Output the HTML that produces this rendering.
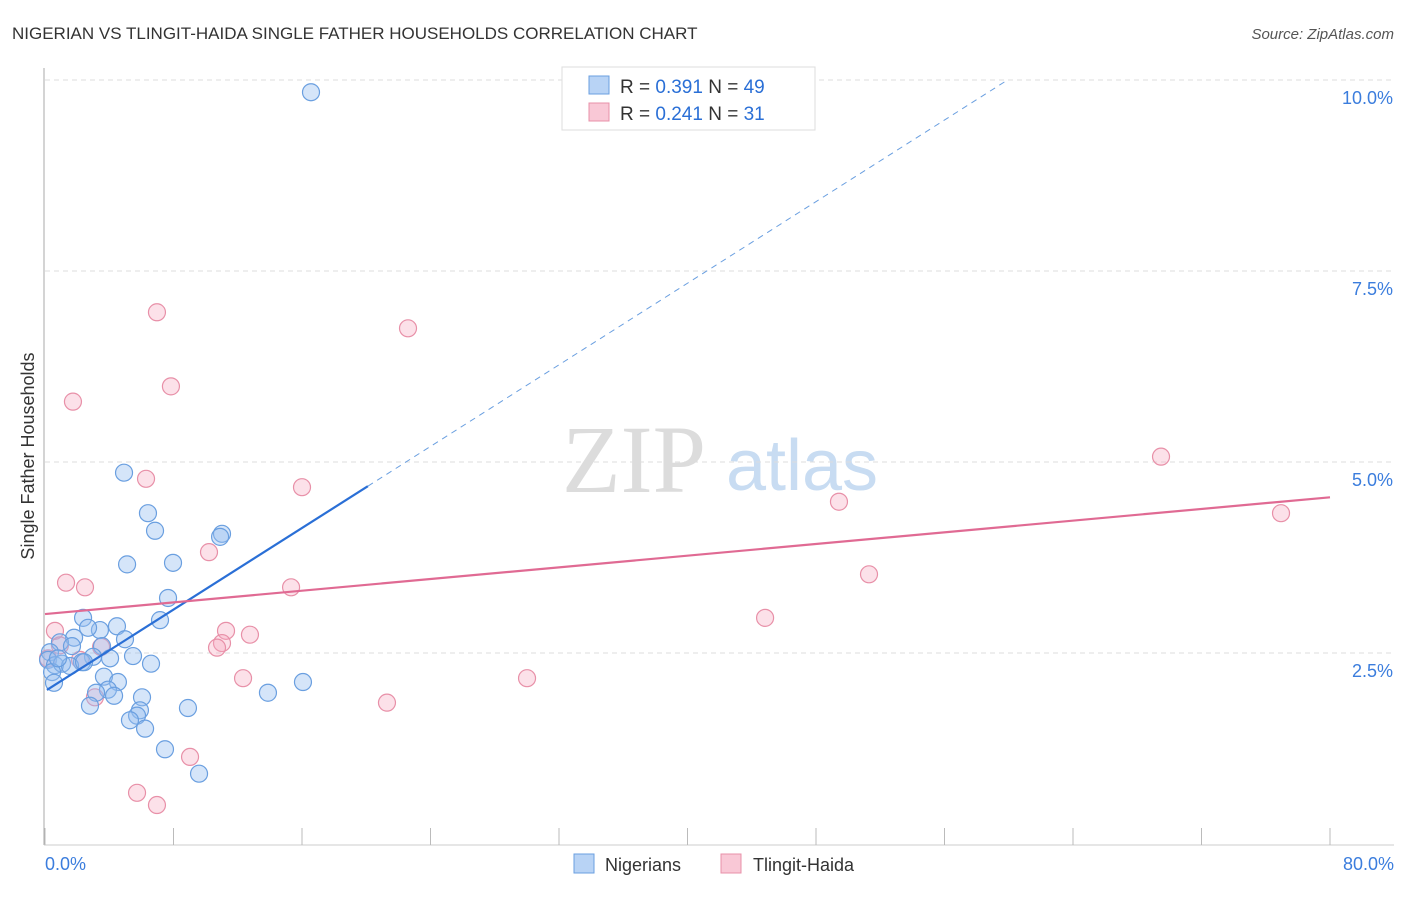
<!DOCTYPE html>
<html><head><meta charset="utf-8"><style>
body{margin:0;background:#fff;font-family:"Liberation Sans",sans-serif;}
svg text{font-family:"Liberation Sans",sans-serif;}
</style></head><body>
<svg width="1406" height="892" viewBox="0 0 1406 892">
<text x="12" y="39" font-size="17" fill="#333">NIGERIAN VS TLINGIT-HAIDA SINGLE FATHER HOUSEHOLDS CORRELATION CHART</text>
<text x="1394" y="39" font-size="15" fill="#555" font-style="italic" text-anchor="end">Source: ZipAtlas.com</text>
<g>
<text x="634" y="492" font-size="96" fill="#dcdcdc" text-anchor="middle" font-family="Liberation Serif" style="font-family:'Liberation Serif',serif">ZIP</text>
<text x="802" y="490" font-size="72" fill="#c8dcf2" text-anchor="middle">atlas</text>
</g>
<g id="grid"></g>
<g id="axes"></g>
<g id="marks"></g>
<text transform="translate(34,456) rotate(-90)" font-size="18" fill="#333" text-anchor="middle">Single Father Households</text>
<g>
<rect x="562" y="67" width="253" height="63" fill="#fff" stroke="#ddd"/>
<rect x="589" y="76" width="20" height="18" fill="#b8d3f5" stroke="#6a9fe0"/>
<text x="620" y="93" font-size="19" fill="#333">R = <tspan fill="#2a6fd6">0.391</tspan>   N = <tspan fill="#2a6fd6">49</tspan></text>
<rect x="589" y="103" width="20" height="18" fill="#f9c8d6" stroke="#e890a8"/>
<text x="620" y="120" font-size="19" fill="#333">R = <tspan fill="#2a6fd6">0.241</tspan>   N = <tspan fill="#2a6fd6"> 31</tspan></text>
</g>
<g>
<rect x="574" y="854" width="20" height="19" fill="#b8d3f5" stroke="#6a9fe0"/>
<text x="605" y="871" font-size="18" fill="#333">Nigerians</text>
<rect x="721" y="854" width="20" height="19" fill="#f9c8d6" stroke="#e890a8"/>
<text x="753" y="871" font-size="18" fill="#333">Tlingit-Haida</text>
</g>
</svg>
<script>
const blueX=[16.56,4.92,6.41,6.85,5.11,7.97,11.02,10.90,7.66,7.16,2.37,4.48,3.42,2.68,1.81,0.93,1.68,4.98,3.55,4.05,5.48,6.60,2.99,2.30,0.31,0.19,0.62,1.06,1.56,0.44,0.56,3.67,4.54,3.92,3.18,4.30,6.04,13.88,16.06,2.80,8.90,5.91,5.73,5.29,6.23,7.47,9.59,2.43,0.81];
const blueY=[9.84,4.86,4.33,4.10,3.66,3.68,4.06,4.02,3.22,2.93,2.96,2.85,2.80,2.83,2.70,2.64,2.59,2.68,2.59,2.43,2.46,2.36,2.45,2.38,2.51,2.41,2.34,2.36,2.33,2.25,2.11,2.19,2.12,2.02,1.98,1.94,1.92,1.98,2.12,1.81,1.78,1.75,1.68,1.62,1.51,1.24,0.92,2.38,2.43];
const pinkX=[6.97,22.60,7.84,1.74,6.29,16.00,10.21,1.31,2.49,15.32,0.62,0.93,12.76,11.27,11.02,10.71,3.49,2.18,0.19,12.33,3.11,21.29,30.01,9.03,5.73,6.97,69.48,76.95,49.43,51.30,44.83];
const pinkY=[6.96,6.75,5.99,5.79,4.78,4.67,3.82,3.42,3.36,3.36,2.79,2.60,2.74,2.79,2.63,2.57,2.58,2.41,2.43,2.17,1.92,1.85,2.17,1.14,0.67,0.51,5.07,4.33,4.48,3.53,2.96];
const blueTrend=[2.0,0.1335]; // intercept, slope
const pinkTrend=[3.01,0.0191];
const yTicks=[2.5,5.0,7.5,10.0];
const yTickLabels=["2.5%","5.0%","7.5%","10.0%"];
const xTicks=[0,8,16,24,32,40,48,56,64,72,80];

const X=v=>45+v/80*1285;
const Y=v=>844-v*76.4;
const NS="http://www.w3.org/2000/svg";
function mk(tag,attrs,parent){const e=document.createElementNS(NS,tag);for(const k in attrs)e.setAttribute(k,attrs[k]);parent.appendChild(e);return e;}
const grid=document.getElementById('grid'),axes=document.getElementById('axes'),marks=document.getElementById('marks');
yTicks.forEach((t,i)=>{
  const l=mk('line',{x1:45,x2:1394,y1:Y(t),y2:Y(t),stroke:'#ddd','stroke-dasharray':'5,4'},grid);
  
  
  const tx=mk('text',{x:1393,y:Y(t)+24,'font-size':18,fill:'#3b7ddd','text-anchor':'end'},axes);
  tx.textContent=yTickLabels[i];
  
  
});
const ya=mk('line',{x1:44,x2:44,y1:68,y2:845,stroke:'#aaa'},axes);


const xa=mk('line',{x1:44,x2:1394,y1:845,y2:845,stroke:'#ccc'},axes);


xTicks.forEach(t=>{
  const l=mk('line',{x1:X(t),x2:X(t),y1:828,y2:845,stroke:'#bbb'},axes);
  
  
});
[[0,'0.0%','start',45],[80,'80.0%','end',1394]].forEach(a=>{
  const tx=mk('text',{x:a[3],y:870,'font-size':18,fill:'#3b7ddd','text-anchor':a[2]},axes);
  tx.textContent=a[1];
  
  
});
function dots(xs,ys,fill,stroke,name){
  xs.forEach((v,i)=>{
    const c=mk('circle',{cx:X(v),cy:Y(ys[i]),r:8.5,fill:fill,stroke:stroke,'stroke-width':1.2},marks);
    
    
  });
}
dots(pinkX,pinkY,'rgba(246,170,192,0.35)','#e890a8','tlingit-haida-point');
dots(blueX,blueY,'rgba(150,190,240,0.4)','#6a9fe0','nigerian-point');
const bx0=0.12,bx1=20.1,bx2=59.8;
const bs=mk('line',{x1:X(bx0),y1:Y(blueTrend[0]+blueTrend[1]*bx0),x2:X(bx1),y2:Y(blueTrend[0]+blueTrend[1]*bx1),stroke:'#2a6fd6','stroke-width':2.2},marks);


const bd=mk('line',{x1:X(bx1),y1:Y(blueTrend[0]+blueTrend[1]*bx1),x2:X(bx2),y2:Y(blueTrend[0]+blueTrend[1]*bx2),stroke:'#6a9fe0','stroke-width':1,'stroke-dasharray':'6,5'},marks);


const pt=mk('line',{x1:X(0),y1:Y(pinkTrend[0]),x2:X(80),y2:Y(pinkTrend[0]+pinkTrend[1]*80),stroke:'#e06a93','stroke-width':2.2},marks);


</script>
</body></html>
